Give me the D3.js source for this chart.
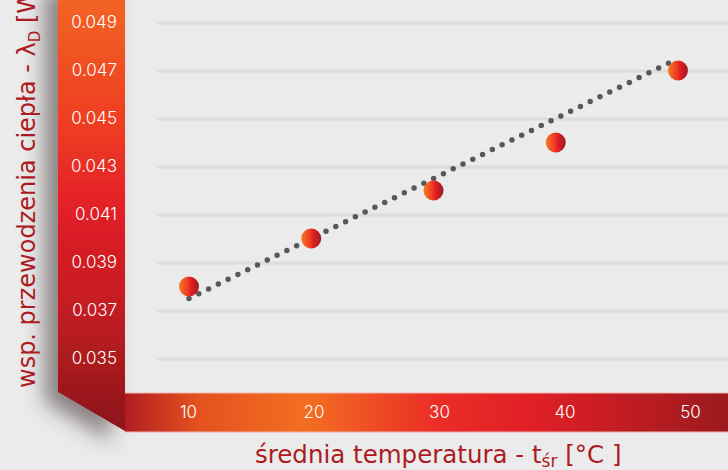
<!DOCTYPE html>
<html>
<head>
<meta charset="utf-8">
<title>Współczynnik przewodzenia ciepła</title>
<script src="https://d3js.org/d3.v7.min.js"></script>
<style>
  body { margin: 0; background: #ebebeb; font-family: "DejaVu Sans", sans-serif; }
  svg { display: block; }
</style>
</head>
<body>
<div id="chart"></div>
<script>
  // data
  const temps = [10, 20, 30, 40, 50];
  const lambdaValues = [0.038, 0.040, 0.042, 0.044, 0.047];
  const yTicks = [0.035, 0.037, 0.039, 0.041, 0.043, 0.045, 0.047, 0.049];
  const trendFrom = [10, 0.0375];
  const trendTo = [50, 0.0475];

  const width = 728, height = 470;

  const svg = d3.select('#chart').append('svg')
    .attr('width', width)
    .attr('height', height);

  const defs = svg.append('defs');

  // vertical gradient of the left bar
  const vGrad = defs.append('linearGradient')
    .attr('id', 'vGrad').attr('gradientUnits', 'userSpaceOnUse')
    .attr('x1', 0).attr('y1', 0).attr('x2', 0).attr('y2', 432);
  [[0, '#f26322'], [0.3, '#ee3b24'], [0.47, '#e42026'], [0.72, '#c21c22'], [1, '#8a171a']]
    .forEach(s => vGrad.append('stop').attr('offset', s[0]).attr('stop-color', s[1]));

  // horizontal gradient of the bottom bar
  const hGrad = defs.append('linearGradient')
    .attr('id', 'hGrad').attr('gradientUnits', 'userSpaceOnUse')
    .attr('x1', 125).attr('y1', 0).attr('x2', 728).attr('y2', 0);
  [[0, '#b01d20'], [0.12, '#e4511f'], [0.3, '#f36e21'], [0.52, '#ea2d27'], [0.68, '#e01f26'], [1, '#9b1a1e']]
    .forEach(s => hGrad.append('stop').attr('offset', s[0]).attr('stop-color', s[1]));

  // point gradient
  const pGrad = defs.append('linearGradient').attr('id', 'pGrad');
  [[0, '#f47a20'], [0.45, '#ee3a24'], [0.6, '#e31e24'], [1, '#9b1b1f']]
    .forEach(s => pGrad.append('stop').attr('offset', s[0]).attr('stop-color', s[1]));

  const shadow = defs.append('filter').attr('id', 'shadow')
    .attr('x', -0.8).attr('y', -0.2).attr('width', 2.6).attr('height', 1.4);
  shadow.append('feDropShadow')
    .attr('dx', -14).attr('dy', 10).attr('stdDeviation', 10)
    .attr('flood-color', '#463838').attr('flood-opacity', 0.58);

  // scales
  const x = d3.scaleLinear().domain([10, 50]).range([189, 678]);
  const xLabel = d3.scaleLinear().domain([10, 50]).range([188, 690]);
  const y = d3.scaleLinear().domain([0.035, 0.049]).range([358.5, 22.5]);

  // left bar with shadow
  svg.append('polygon')
    .attr('points', '58,-20 125,-20 125,431 58,392')
    .attr('fill', 'url(#vGrad)')
    .attr('filter', 'url(#shadow)');

  // bottom bar
  svg.append('rect')
    .attr('x', 125).attr('y', 393).attr('width', 603).attr('height', 39)
    .attr('fill', 'url(#hGrad)');
  svg.append('line').attr('x1', 125).attr('x2', 728).attr('y1', 393).attr('y2', 393)
    .attr('stroke', '#f2b9b0').attr('stroke-width', 1);
  svg.append('line').attr('x1', 125).attr('x2', 728).attr('y1', 432).attr('y2', 432)
    .attr('stroke', '#e8b4ad').attr('stroke-width', 1);

  // gridlines
  const grid = svg.append('g')
    .attr('transform', 'translate(157,0)')
    .call(d3.axisRight(y).tickValues(yTicks).tickSize(571).tickFormat(''));
  grid.select('.domain').remove();
  grid.selectAll('line').attr('stroke', '#dcdcdc').attr('stroke-width', 3);

  // y tick labels
  const yAxis = svg.append('g')
    .attr('transform', 'translate(119,0)')
    .call(d3.axisLeft(y).tickValues(yTicks).tickSize(0).tickPadding(2).tickFormat(d3.format('.3f')));
  yAxis.select('.domain').remove();
  yAxis.selectAll('text')
    .attr('fill', '#fff')
    .style('font-size', '17px')
    .style('font-weight', 300)
    .style('font-family', 'Inter, sans-serif');

  // x tick labels
  const xAxis = svg.append('g')
    .attr('transform', 'translate(0,412)')
    .call(d3.axisBottom(xLabel).tickValues(temps).tickSize(0).tickPadding(0));
  xAxis.select('.domain').remove();
  xAxis.selectAll('text')
    .attr('dy', '0.35em')
    .attr('fill', '#fff')
    .style('font-size', '17px')
    .style('font-weight', 300)
    .style('font-family', 'Inter, sans-serif');

  // dotted trend line
  svg.append('path')
    .datum([trendFrom, trendTo])
    .attr('d', d3.line().x(d => x(d[0])).y(d => y(d[1])))
    .attr('fill', 'none')
    .attr('stroke', '#58585a')
    .attr('stroke-width', 5.5)
    .attr('stroke-linecap', 'round')
    .attr('stroke-dasharray', '0 10.9');

  // points
  svg.selectAll('.pt')
    .data(temps.map((t, i) => [t, lambdaValues[i]]))
    .enter()
    .append('circle')
    .attr('class', 'pt')
    .attr('cx', d => x(d[0]))
    .attr('cy', d => y(d[1]))
    .attr('r', 10)
    .attr('fill', 'url(#pGrad)');

  // axis titles
  const xt = svg.append('text')
    .attr('x', 255).attr('y', 463)
    .attr('fill', '#ab1b21')
    .style('font-size', '24.5px');
  xt.append('tspan').text('średnia temperatura - t');
  xt.append('tspan').attr('dy', 4).style('font-size', '17px').text('śr');
  xt.append('tspan').attr('dy', -4).text(' [°C ]');

  const yt = svg.append('text')
    .attr('transform', 'translate(35,388) rotate(-90)')
    .attr('fill', '#ab1b21')
    .style('font-size', '24px');
  yt.append('tspan').text('wsp. przewodzenia ciepła - λ');
  yt.append('tspan').attr('dy', 5).style('font-size', '15px').text('D');
  yt.append('tspan').attr('dy', -5).text(' [W/mK]');
</script>
</body>
</html>
